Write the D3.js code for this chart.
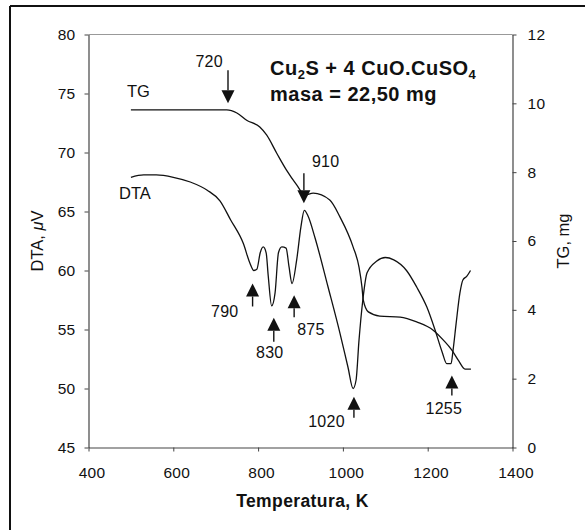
<!DOCTYPE html>
<html><head><meta charset="utf-8">
<script src="https://cdn.jsdelivr.net/npm/d3@7"></script>
<style>
body{margin:0;background:#fff}
svg{display:block}
text{font-family:"Liberation Sans",Arial,Helvetica,sans-serif;fill:#111}
</style>
</head><body>
<svg id="c" width="585" height="530"></svg>
<script>
// ---- data ----
const dtaT = [500,530,560,600,640,680,710,735,765,781,790,797,805,812,819,824,832,840,848,856,866,873,880,891,901,909,918,934,965,993,1012,1024,1031,1038,1047,1057,1080,1100,1120,1150,1174,1198,1217,1234,1245,1255,1260,1267,1276,1283,1292,1301];
const dtaV = [67.9,68.1,68.1,67.9,67.5,66.8,65.9,64.3,62.3,60.6,60.0,60.1,61.5,62.0,61.5,59.5,57.0,58.1,61.5,62.0,61.9,60.3,58.9,60.9,63.7,65.1,64.6,62.8,58.6,54.7,51.8,50.0,50.7,54.1,57.5,59.8,60.8,61.1,60.9,60.0,58.6,56.9,55.0,53.1,52.1,52.1,53.3,55.5,58.1,59.2,59.5,60.0];
const tgT = [500,726,750,773,804,820,844,867,891,910,930,969,993,1024,1038,1045,1048,1060,1087,1135,1174,1213,1237,1257,1272,1288,1302];
const tgV = [9.81,9.81,9.72,9.51,9.31,9.08,8.55,8.06,7.63,7.34,7.39,7.19,6.7,5.83,5.24,4.66,4.29,3.94,3.82,3.79,3.65,3.41,3.12,2.83,2.54,2.28,2.28];
const xTicks = [400,600,800,1000,1200,1400];
const dtaTicks = [45,50,55,60,65,70,75,80];
const tgTicks = [0,2,4,6,8,10,12];
const annLabels = ["720","910","790","830","875","1020","1255"];
const annT = [729,908,787,837,885,1026,1257];
const annTip = [10.0,7.1,58.9,56.0,57.9,49.3,51.1];
const annSeries = ["TG","TG","DTA","DTA","DTA","DTA","DTA"];
const annDir = ["down","down","up","up","up","up","up"];

// ---- layout / style ----
const annLen = [33,30,23,24,22,21,20];
const annLab = [ // [anchor, dx, dy from arrow tail]
  ["end",-5,-3],["start",8,-6],["end",-14,11],["middle",-4,16],["start",3,18],["end",-9,9],["middle",-8,18]
];
const M = {l:88.5, r:512.5, t:34.5, b:447.5};
const svg = d3.select("#c");
const x = d3.scaleLinear().domain([400,1400]).range([M.l,M.r]);
const yL = d3.scaleLinear().domain([45,80]).range([M.b,M.t]);
const yR = d3.scaleLinear().domain([0,12]).range([M.b,M.t]);
const AX = "#444";

// outer frame
svg.append("line").attr("x1",10).attr("y1",6).attr("x2",585).attr("y2",6).attr("stroke","#111").attr("stroke-width",2);
svg.append("line").attr("x1",10).attr("y1",6).attr("x2",10).attr("y2",530).attr("stroke","#111").attr("stroke-width",2);

// top border of plot
svg.append("line").attr("x1",M.l).attr("x2",M.r).attr("y1",M.t).attr("y2",M.t).attr("stroke","#999").attr("stroke-width",1);

function styleAxis(g){
  g.selectAll("path,line").attr("stroke",AX);
  g.select(".domain").attr("stroke-width",1.2);
  g.selectAll("text").attr("font-size",15.5).attr("letter-spacing",0.3).attr("fill","#111").attr("font-family",'"Liberation Sans",Arial,sans-serif');
}
const gx = svg.append("g").attr("transform",`translate(0,${M.b})`)
  .call(d3.axisBottom(x).tickValues(xTicks).tickSize(4).tickPadding(15.5).tickSizeOuter(0).tickFormat(d3.format("d")));
styleAxis(gx); gx.selectAll("text").attr("dx",3);
const gl = svg.append("g").attr("transform",`translate(${M.l},0)`)
  .call(d3.axisLeft(yL).tickValues(dtaTicks).tickSize(4).tickPadding(9).tickSizeOuter(0));
styleAxis(gl);
const gr = svg.append("g").attr("transform",`translate(${M.r},0)`)
  .call(d3.axisRight(yR).tickValues(tgTicks).tickSize(4).tickPadding(11).tickSizeOuter(0));
styleAxis(gr);

// curves
const dtaLine = d3.line().x((d,i)=>x(dtaT[i])).y(d=>yL(d)).curve(d3.curveMonotoneX);
const tgLine = d3.line().x((d,i)=>x(tgT[i])).y(d=>yR(d)).curve(d3.curveMonotoneX);
svg.append("path").attr("d",dtaLine(dtaV)).attr("fill","none").attr("stroke","#111").attr("stroke-width",1.3);
svg.append("path").attr("d",tgLine(tgV)).attr("fill","none").attr("stroke","#111").attr("stroke-width",1.3);

// arrows + labels
annT.forEach((t,i)=>{
  const ax = x(t);
  const ty = annSeries[i]==="TG" ? yR(annTip[i]) : yL(annTip[i]);
  const s = annDir[i]==="down" ? -1 : 1; // direction from tip to tail
  const L = annLen[i], h = 13, w = 13;
  svg.append("line").attr("x1",ax).attr("x2",ax).attr("y1",ty+s*h).attr("y2",ty+s*L).attr("stroke","#111").attr("stroke-width",1.4);
  svg.append("path").attr("d",`M${ax},${ty}L${ax-w/2},${ty+s*h}L${ax+w/2},${ty+s*h}Z`).attr("fill","#111");
  const [anc,dx,dy] = annLab[i];
  svg.append("text").attr("x",ax+dx).attr("y",ty+s*L+dy).attr("text-anchor",anc).attr("font-size",16).attr("letter-spacing",0.3).text(annLabels[i]);
});

// curve labels
svg.append("text").attr("x",127).attr("y",97).attr("font-size",16.5).text("TG");
svg.append("text").attr("x",119).attr("y",199).attr("font-size",16.5).text("DTA");

// title
const t1 = svg.append("text").attr("x",270).attr("y",75).attr("font-size",20).attr("letter-spacing",0.5).attr("font-weight","bold");
t1.append("tspan").text("Cu");
t1.append("tspan").attr("font-size",13).attr("dy",4).text("2");
t1.append("tspan").attr("dy",-4).text("S + 4 CuO.CuSO");
t1.append("tspan").attr("font-size",13).attr("dy",4).text("4");
svg.append("text").attr("x",270).attr("y",101).attr("font-size",20).attr("letter-spacing",0.5).attr("font-weight","bold").text("masa = 22,50 mg");

// axis titles
svg.append("text").attr("x",(M.l+M.r)/2+2).attr("y",507).attr("text-anchor","middle").attr("font-size",17.5).attr("letter-spacing",0.4).attr("font-weight","bold").text("Temperatura, K");
const yt = svg.append("text").attr("transform",`translate(43,${(M.t+M.b)/2}) rotate(-90)`).attr("text-anchor","middle").attr("font-size",16.5);
yt.append("tspan").text("DTA, ");
yt.append("tspan").attr("font-style","italic").text("μ");
yt.append("tspan").text("V");
svg.append("text").attr("transform",`translate(569,${(M.t+M.b)/2}) rotate(-90)`).attr("text-anchor","middle").attr("font-size",16.5).text("TG, mg");
</script>
</body></html>
